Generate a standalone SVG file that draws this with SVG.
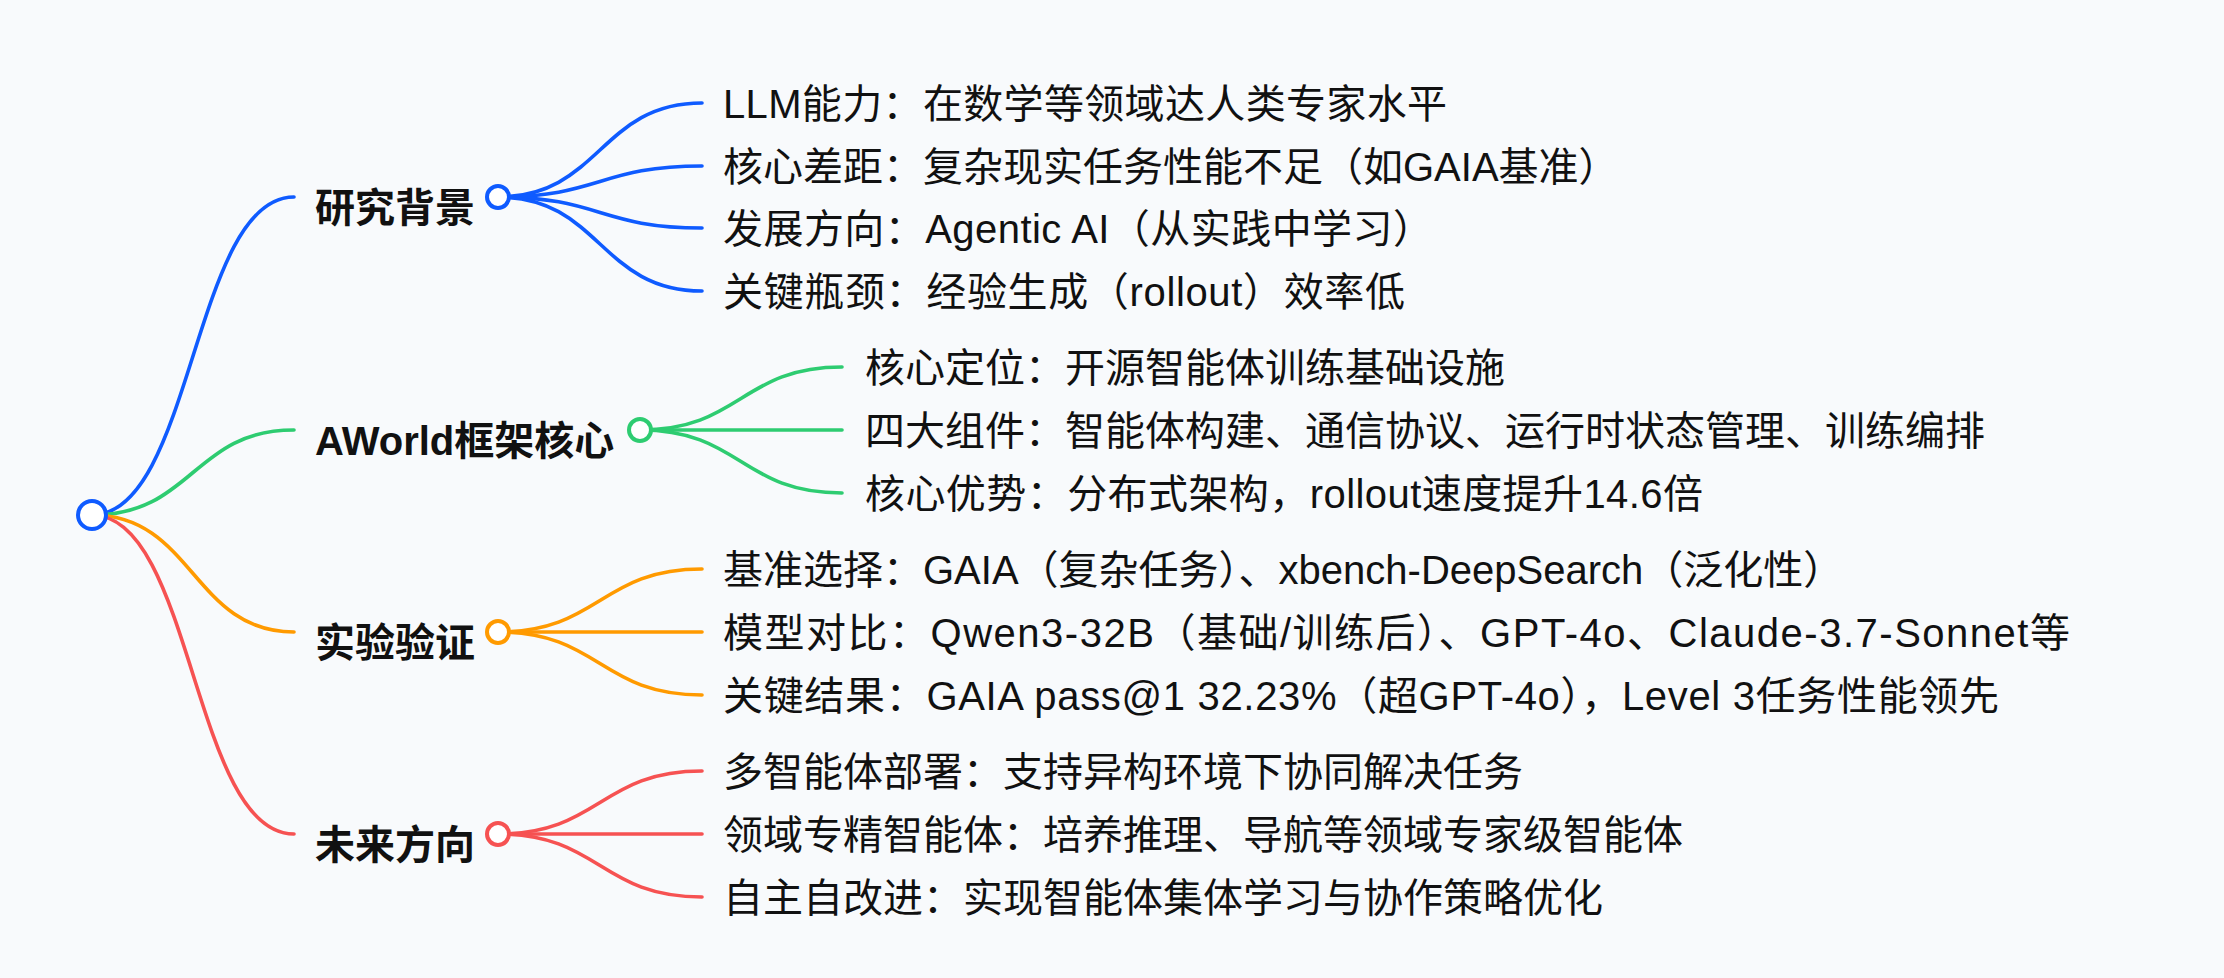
<svg xmlns="http://www.w3.org/2000/svg" width="2224" height="978" viewBox="0 0 2224 978">
<style>
.txt{font-family:"Liberation Sans","Noto Sans CJK SC",sans-serif;font-size:40px;fill:#111}
.l1{font-weight:700}
.lk{fill:none;stroke-width:3.6;stroke-linecap:round}
.node{fill:#fff;stroke-width:4}
.blue{stroke:#0f5bff}
.green{stroke:#2ecc71}
.orange{stroke:#ff9a00}
.red{stroke:#f65252}
</style>
<rect width="2224" height="978" fill="#f8fafc"/>
<g id="connectors">
  <path class="lk blue" d="M92 515 C193 515 193 197 294 197"/>
  <path class="lk green" d="M92 515 C193 515 193 430 294 430"/>
  <path class="lk orange" d="M92 515 C193 515 193 632 294 632"/>
  <path class="lk red" d="M92 515 C193 515 193 834 294 834"/>
  <path class="lk blue" d="M498 197 C600 197 600 103 702 103"/>
  <path class="lk blue" d="M498 197 C600 197 600 166 702 166"/>
  <path class="lk blue" d="M498 197 C600 197 600 228 702 228"/>
  <path class="lk blue" d="M498 197 C600 197 600 291 702 291"/>
  <path class="lk green" d="M640 430 C741 430 741 367 842 367"/>
  <path class="lk green" d="M640 430 C741 430 741 430 842 430"/>
  <path class="lk green" d="M640 430 C741 430 741 493 842 493"/>
  <path class="lk orange" d="M498 632 C600 632 600 569 702 569"/>
  <path class="lk orange" d="M498 632 C600 632 600 632 702 632"/>
  <path class="lk orange" d="M498 632 C600 632 600 695 702 695"/>
  <path class="lk red" d="M498 834 C600 834 600 771 702 771"/>
  <path class="lk red" d="M498 834 C600 834 600 834 702 834"/>
  <path class="lk red" d="M498 834 C600 834 600 897 702 897"/>
</g>
<g id="root"><circle class="node blue" cx="92" cy="515" r="14"/></g>
<g id="n1">
  <text class="txt l1" x="315" y="222">研究背景</text>
  <circle class="node blue" cx="498" cy="197" r="11"/>
</g>
<g id="n1-1"><text class="txt" x="723" y="118" textLength="724" lengthAdjust="spacing">LLM能力：在数学等领域达人类专家水平</text></g>
<g id="n1-2"><text class="txt" x="723" y="181">核心差距：复杂现实任务性能不足（如GAIA基准）</text></g>
<g id="n1-3"><text class="txt" x="723" y="243" textLength="710" lengthAdjust="spacing">发展方向：Agentic AI（从实践中学习）</text></g>
<g id="n1-4"><text class="txt" x="723" y="306" textLength="682" lengthAdjust="spacing">关键瓶颈：经验生成（rollout）效率低</text></g>
<g id="n2">
  <text class="txt l1" x="315" y="455">AWorld框架核心</text>
  <circle class="node green" cx="640" cy="430" r="11"/>
</g>
<g id="n2-1"><text class="txt" x="865" y="382">核心定位：开源智能体训练基础设施</text></g>
<g id="n2-2"><text class="txt" x="865" y="445">四大组件：智能体构建、通信协议、运行时状态管理、训练编排</text></g>
<g id="n2-3"><text class="txt" x="865" y="508" textLength="838" lengthAdjust="spacing">核心优势：分布式架构，rollout速度提升14.6倍</text></g>
<g id="n3">
  <text class="txt l1" x="315" y="657">实验验证</text>
  <circle class="node orange" cx="498" cy="632" r="11"/>
</g>
<g id="n3-1"><text class="txt" x="723" y="584">基准选择：GAIA（复杂任务）、xbench-DeepSearch（泛化性）</text></g>
<g id="n3-2"><text class="txt" x="723" y="647" textLength="1347" lengthAdjust="spacing">模型对比：Qwen3-32B（基础/训练后）、GPT-4o、Claude-3.7-Sonnet等</text></g>
<g id="n3-3"><text class="txt" x="723" y="710" textLength="1276" lengthAdjust="spacing">关键结果：GAIA pass@1 32.23%（超GPT-4o），Level 3任务性能领先</text></g>
<g id="n4">
  <text class="txt l1" x="315" y="859">未来方向</text>
  <circle class="node red" cx="498" cy="834" r="11"/>
</g>
<g id="n4-1"><text class="txt" x="723" y="786">多智能体部署：支持异构环境下协同解决任务</text></g>
<g id="n4-2"><text class="txt" x="723" y="849">领域专精智能体：培养推理、导航等领域专家级智能体</text></g>
<g id="n4-3"><text class="txt" x="723" y="912">自主自改进：实现智能体集体学习与协作策略优化</text></g>
</svg>
